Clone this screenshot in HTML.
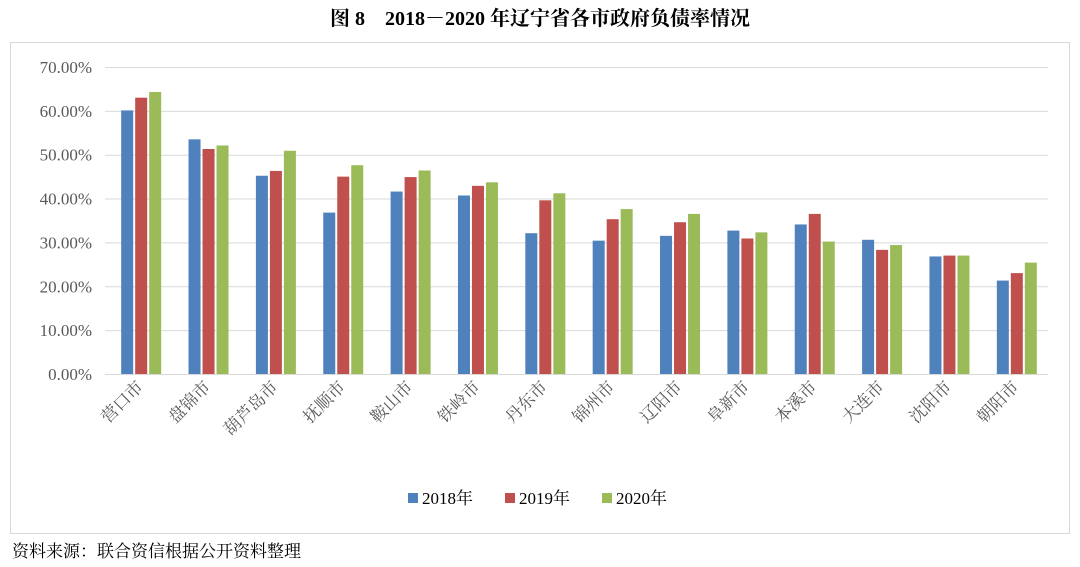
<!DOCTYPE html>
<html><head><meta charset="utf-8"><style>
body{margin:0;background:#fff;}
svg{display:block;font-family:"Liberation Serif","Noto Serif CJK SC",serif;}
</style></head><body>
<svg width="1080" height="567" viewBox="0 0 1080 567">
<text x="540" y="25" text-anchor="middle" font-size="20" font-weight="bold" fill="#000">图 8　2018－2020 年辽宁省各市政府负债率情况</text>
<rect x="10.5" y="42.5" width="1059" height="491" fill="none" stroke="#d9d9d9"/>
<g id="grid" stroke="#d9d9d9" stroke-width="1"></g>
<g id="yl" font-size="17" fill="#595959" text-anchor="end"></g>
<g id="bars"></g>
<g id="xl" font-size="17" fill="#595959" font-family="Liberation Serif,Noto Serif CJK SC,serif"></g>
<g font-size="17" fill="#000">
<rect x="408" y="493" width="10" height="10" fill="#4f81bd"/><text x="422" y="504">2018年</text>
<rect x="505" y="493" width="10" height="10" fill="#c0504d"/><text x="519" y="504">2019年</text>
<rect x="602" y="493" width="10" height="10" fill="#9bbb59"/><text x="616" y="504">2020年</text>
</g>
<text x="12" y="557" font-size="17" fill="#000" font-family="Liberation Serif,Noto Serif CJK SC,serif">资料来源：联合资信根据公开资料整理</text>
</svg>
<script>
const ns="http://www.w3.org/2000/svg";
function el(p,t,a,txt){const e=document.createElementNS(ns,t);for(const k in a)e.setAttribute(k,a[k]);if(txt)e.textContent=txt;document.getElementById(p).appendChild(e);}
const y0=374,s=4.386,x0=105,x1=1048;
for(let i=0;i<=7;i++){const y=y0-i*10*s;el("grid","line",{x1:x0,x2:x1,y1:y+.5,y2:y+.5});el("yl","text",{x:92,y:y+6},(i*10).toFixed(2)+"%");}
const names=["营口市","盘锦市","葫芦岛市","抚顺市","鞍山市","铁岭市","丹东市","锦州市","辽阳市","阜新市","本溪市","大连市","沈阳市","朝阳市"];
const d=[[60.1,63,64.3],[53.5,51.3,52.1],[45.2,46.3,50.9],[36.8,45,47.6],[41.6,44.9,46.4],[40.7,42.9,43.7],[32.1,39.6,41.2],[30.4,35.3,37.6],[31.5,34.6,36.5],[32.7,30.9,32.3],[34.1,36.5,30.2],[30.6,28.3,29.4],[26.8,27,27],[21.3,23,25.4]];
const c=["#4f81bd","#c0504d","#9bbb59"];const w=(x1-x0)/14;
d.forEach((g,i)=>{const cx=x0+w*(i+.5)+1.5;g.forEach((v,j)=>{el("bars","rect",{x:cx-19+j*14,y:y0-v*s,width:12,height:v*s,fill:c[j]});});
el("xl","text",{x:0,y:0,"text-anchor":"end",transform:`translate(${cx+4},${y0+14}) rotate(-45)`},names[i]);});
</script>
</body></html>
